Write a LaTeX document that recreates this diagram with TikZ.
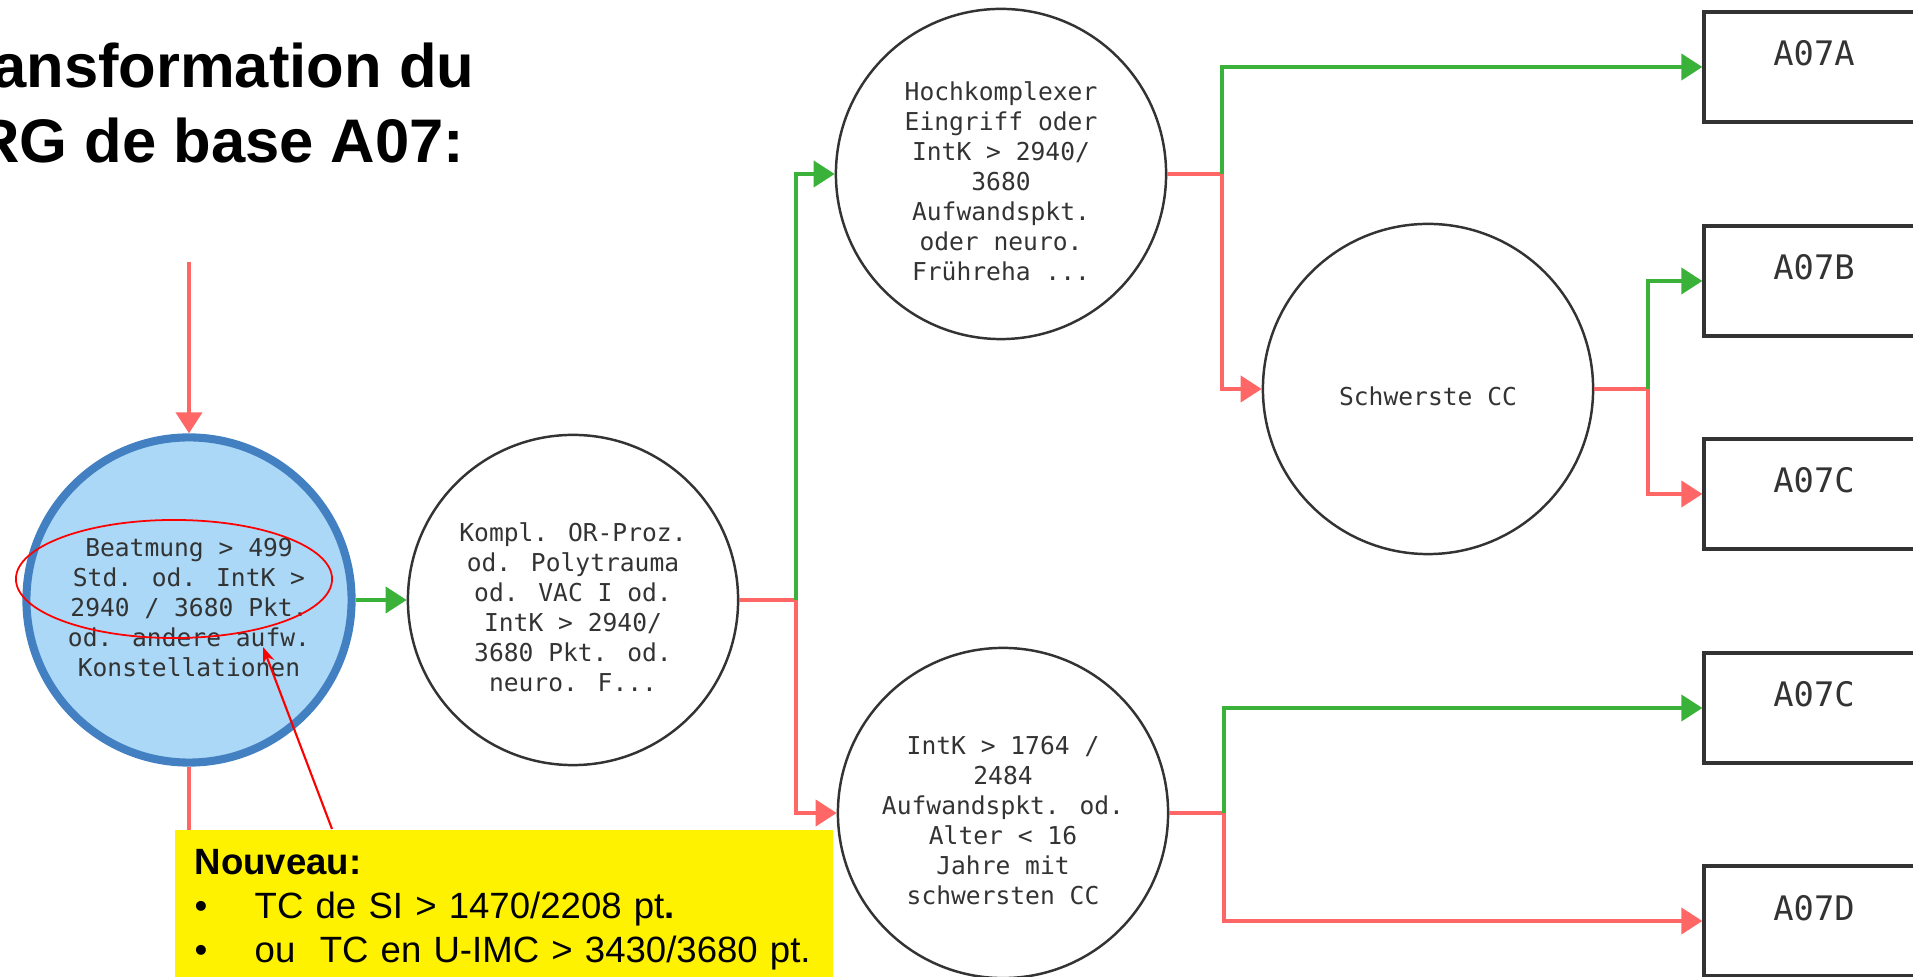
\documentclass[tikz,border=0pt]{standalone}
\usepackage{fontspec}
\setmainfont{Liberation Sans}
\newfontfamily\drgmono{DejaVu Sans Mono}
\usetikzlibrary{arrows.meta,shapes.geometric}
\newcommand{\topgap}{\rule{0pt}{9.5pt}}

\begin{document}
\begin{tikzpicture}[x=0.01cm,y=-0.01cm,
test/.style={circle, draw=black!80, line width=0.7pt, minimum size=3.3cm, inner sep=0pt, align=center, text=black!80, font=\drgmono\fontsize{7}{8.5}\selectfont},
roottest/.style={test, draw=rootblue, fill=rootfill, line width=2.3pt, minimum size=3.25cm},
drg/.style={rectangle, draw=black!80, line width=0.9pt, minimum width=2.2cm, minimum height=1.1cm, text height=0.24cm, text depth=0.26cm, inner sep=0pt, text=black!80, font=\drgmono\fontsize{9.6}{11}\selectfont},
yesarrow/.style={draw=yescolor, line width=1.1pt, -{Triangle[length=2.1mm,width=2.6mm]}},
noarrow/.style={yesarrow, draw=nocolor},
noline/.style={draw=nocolor, line width=1.1pt},
heading/.style={inner sep=0pt, anchor=base east, font=\bfseries\fontsize{17.5}{21}\selectfont},
callout/.style={fill=yellow, anchor=north west, minimum height=1.6cm, text width=6.18cm, inner xsep=0.2cm, inner ysep=0.19cm, align=left, font=\fontsize{10.4}{12.5}\selectfont},
ring/.style={ellipse, draw=red, line width=0.5pt, minimum width=3.16cm, minimum height=1.18cm, inner sep=0pt},
pointer/.style={draw=red, line width=0.6pt, -{Stealth[length=1.6mm,width=1.2mm]}}]

% Define decision colors
\definecolor{yescolor}{RGB}{58,178,58}
\definecolor{nocolor}{RGB}{255,102,102}
\definecolor{rootfill}{RGB}{170,216,246}
\definecolor{rootblue}{RGB}{66,128,194}

\useasboundingbox (0,0) rectangle (1913,977);

\node[heading] (title1) at (475,88) {ansformation du};
\node[heading] (title2) at (465,163) {RG de base A07:};

% tests
\node[roottest] (beat) at (189,600) {\topgap Beatmung > 499\\Std. od. IntK >\\2940 / 3680 Pkt.\\od. andere aufw.\\Konstellationen};
\node[test] (kompl) at (573,600) {\topgap Kompl. OR-Proz.\\od. Polytrauma\\od. VAC I od.\\IntK > 2940/\\3680 Pkt. od.\\neuro. F...};
\node[test] (hoch) at (1001,174) {\topgap Hochkomplexer\\Eingriff oder\\IntK > 2940/\\3680\\Aufwandspkt.\\oder neuro.\\Frühreha ...};
\node[test] (schwer) at (1428,389) {\topgap Schwerste CC};
\node[test] (intk) at (1003,813) {\topgap IntK > 1764 /\\2484\\Aufwandspkt. od.\\Alter < 16\\Jahre mit\\schwersten CC};

% DRGs (right edge runs off the page)
\node[drg] (a07a) at (1814,67) {A07A};
\node[drg] (a07b) at (1814,281) {A07B};
\node[drg] (a07c) at (1814,494) {A07C};
\node[drg] (a07cc) at (1814,708) {A07C};
\node[drg] (a07d) at (1814,921) {A07D};

\coordinate (feed) at (189,262);
\coordinate (below) at (189,900);
\draw[noarrow] (feed) -- (beat);
\draw[noline] (beat.south) -- (below);
\draw[yesarrow] (beat) -- (kompl);

\draw[noarrow] (kompl.east) -- ++(57,0) |- (intk.west);
\draw[yesarrow] (kompl.east) ++(57,0) |- (hoch.west);
\draw[noarrow] (hoch.east) -- ++(55,0) |- (schwer.west);
\draw[yesarrow] (hoch.east) ++(55,0) |- (a07a.west);
\draw[noarrow] (schwer.east) -- ++(54,0) |- (a07c.west);
\draw[yesarrow] (schwer.east) ++(54,0) |- (a07b.west);
\draw[noarrow] (intk.east) -- ++(55,0) |- (a07d.west);
\draw[yesarrow] (intk.east) ++(55,0) |- (a07cc.west);

% annotation
\node[ring] (ring) at (174,579) {};
\node[callout] (note) at (174,829) {\textbf{Nouveau:}\\\mbox{\makebox[0.6cm][l]{\textbullet}TC de SI > 1470/2208 pt\textbf{.}}\\\mbox{\makebox[0.6cm][l]{\textbullet}ou\ \ TC en U-IMC > 3430/3680 pt.}};
\coordinate (tip) at (263,647);
\draw[pointer] (note.north west) ++(158,0) -- (tip);
\end{tikzpicture}
\end{document}
